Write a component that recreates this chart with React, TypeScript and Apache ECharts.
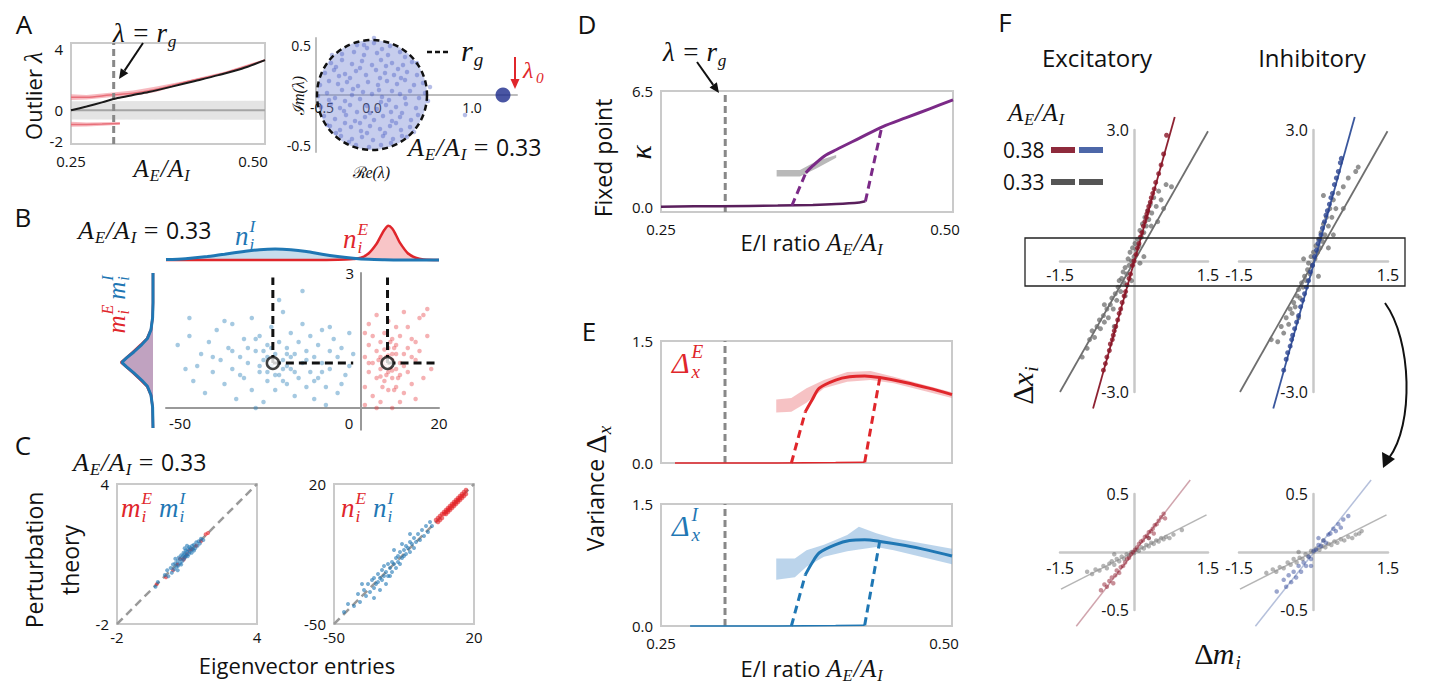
import React, { useEffect, useRef } from "react";
import * as echarts from "echarts";

const SANS = "'Open Sans', 'Noto Sans', sans-serif";
const SERIF = "'Liberation Serif', 'DejaVu Serif', serif";
const TICK = "#111";

// ===== Panel A (left): outlier eigenvalue vs A_E/A_I =====
const rgLineX = 0.305;
const aBlackX = [0.25, 0.27, 0.29, 0.31, 0.33, 0.35, 0.38, 0.41, 0.44, 0.47, 0.5];
const aBlackY = [0.0, 0.25, 0.52, 0.8, 1.0, 1.2, 1.55, 1.92, 2.3, 2.72, 3.28];
const aPinkUpX = [0.25, 0.27, 0.3, 0.33, 0.36, 0.4, 0.45, 0.5];
const aPinkUpHi = [1.05, 1.0, 1.15, 1.3, 1.55, 1.95, 2.55, 3.36];
const aPinkUpLo = [0.68, 0.7, 0.85, 0.95, 1.2, 1.82, 2.42, 3.2];
const aPinkUpMid = [0.86, 0.85, 1.0, 1.12, 1.38, 1.88, 2.48, 3.28];
const aPinkLowX = [0.25, 0.27, 0.29, 0.313];
const aPinkLowHi = [-0.75, -0.8, -0.78, -0.76];
const aPinkLowLo = [-1.08, -1.05, -1.0, -0.95];
const aPinkLowMid = [-0.92, -0.93, -0.9, -0.86];
const aGrayX = [0.25, 0.5];
const aGrayHi = [0.6, 0.62];
const aGrayLo = [-0.6, -0.62];

// ===== Panel A (right): eigenvalue spectrum =====
const rg = 0.55;
const lambda0 = [[1.31, 0]];
const eigPts = [
  [-0.15, 0.5], [0.02, 0.52], [0.18, 0.49], [-0.05, 0.47], [0.1, 0.46],
  [-0.3, 0.41], [-0.18, 0.43], [-0.08, 0.4], [0.05, 0.42], [0.16, 0.4], [0.28, 0.43], [0.33, 0.38],
  [-0.41, 0.32], [-0.3, 0.35], [-0.2, 0.31], [-0.1, 0.34], [0.0, 0.3], [0.09, 0.35], [0.2, 0.32], [0.31, 0.3], [0.4, 0.33], [-0.36, 0.28], [0.26, 0.26],
  [-0.47, 0.22], [-0.38, 0.25], [-0.27, 0.21], [-0.16, 0.24], [-0.06, 0.2], [0.04, 0.25], [0.13, 0.22], [0.22, 0.2], [0.35, 0.23], [0.45, 0.2], [-0.22, 0.17], [0.08, 0.17],
  [-0.52, 0.1], [-0.43, 0.14], [-0.34, 0.11], [-0.25, 0.13], [-0.14, 0.09], [-0.04, 0.13], [0.06, 0.1], [0.15, 0.14], [0.25, 0.11], [0.33, 0.15], [0.42, 0.1], [0.51, 0.12], [-0.3, 0.05], [0.2, 0.04], [-0.09, 0.03], [0.38, 0.04],
  [-0.54, -0.01], [-0.45, 0.02], [-0.37, -0.03], [-0.2, 0.0], [-0.12, -0.04], [0.0, 0.01], [0.1, -0.02], [0.28, 0.01], [0.47, -0.03], [0.53, 0.02], [-0.27, -0.06], [0.17, -0.05],
  [-0.51, -0.12], [-0.41, -0.09], [-0.32, -0.13], [-0.22, -0.1], [-0.05, -0.11], [0.05, -0.14], [0.14, -0.1], [0.24, -0.12], [0.34, -0.09], [0.44, -0.13], [-0.15, -0.17], [0.3, -0.18],
  [-0.48, -0.21], [-0.37, -0.24], [-0.26, -0.2], [-0.17, -0.26], [-0.07, -0.22], [0.02, -0.25], [0.11, -0.21], [0.2, -0.26], [0.28, -0.22], [0.39, -0.25], [0.46, -0.2], [-0.02, -0.18],
  [-0.42, -0.31], [-0.32, -0.35], [-0.21, -0.32], [-0.11, -0.36], [-0.02, -0.31], [0.08, -0.34], [0.18, -0.31], [0.29, -0.35], [0.38, -0.32], [-0.27, -0.28], [0.24, -0.28],
  [-0.31, -0.41], [-0.2, -0.44], [-0.1, -0.42], [0.01, -0.45], [0.11, -0.41], [0.21, -0.44], [0.3, -0.41], [-0.05, -0.38],
  [-0.16, -0.5], [-0.03, -0.52], [0.09, -0.5], [0.19, -0.48], [-0.23, -0.47],
  [0.58, 0.08], [0.56, -0.06], [0.02, 0.57], [0.93, -0.2], [-0.4, 0.4], [0.42, -0.37], [-0.45, -0.3], [0.45, 0.32],
  [-0.12, 0.27], [0.14, 0.29], [-0.33, 0.19], [0.29, 0.17], [-0.19, 0.06], [0.07, 0.05], [0.33, -0.03], [-0.43, -0.05],
  [-0.28, -0.16], [0.09, -0.07], [0.19, -0.17], [-0.12, -0.28], [0.13, -0.38], [-0.36, -0.38], [0.35, -0.42], [-0.08, 0.5]
];

// ===== Panel B =====
const nIX = [-50, -45, -40, -35, -30, -26, -22, -18, -14, -10, -6, -2, 2, 6, 10, 14, 20];
const nIY = [0.01, 0.03, 0.07, 0.13, 0.19, 0.23, 0.245, 0.23, 0.19, 0.13, 0.08, 0.04, 0.015, 0.005, 0, 0, 0];
const nEX = [-50, -10, -4, -2, 0, 2, 4, 5, 6, 7, 8, 9, 10, 12, 14, 16, 20];
const nEY = [0, 0, 0.01, 0.02, 0.05, 0.15, 0.36, 0.52, 0.67, 0.76, 0.7, 0.55, 0.38, 0.15, 0.05, 0.01, 0];
const mY = [-2.2, -1.5, -1.1, -0.8, -0.6, -0.35, -0.15, 0, 0.15, 0.35, 0.6, 0.8, 1.1, 1.5, 2.0, 3.0];
const mED = [0, 0.01, 0.05, 0.15, 0.3, 0.5, 0.67, 0.8, 0.67, 0.5, 0.3, 0.15, 0.05, 0.01, 0, 0];
const mID = [0, 0.01, 0.05, 0.14, 0.28, 0.48, 0.66, 0.78, 0.66, 0.48, 0.28, 0.14, 0.05, 0.01, 0, 0];
const bMeanI = [-22.6, 0];
const bMeanE = [6.8, 0];
const bBlue = [
  [-47, 0.6], [-45, -0.2], [-44, 0.9], [-43, -0.6], [-41, 0.3], [-40, -1.0], [-39, 0.7], [-38, -0.3], [-37, 1.1], [-36, 0.1],
  [-35, -0.7], [-34, 0.5], [-33, -0.2], [-33, 1.3], [-32, -1.2], [-31, 0.2], [-30, 0.8], [-30, -0.5], [-29, 0.0], [-28, 1.5],
  [-28, -0.9], [-27, 0.4], [-26, -0.3], [-26, 0.9], [-25, -1.3], [-25, 0.1], [-24, 0.6], [-24, -0.6], [-23, 1.2], [-23, -0.1],
  [-22, 0.3], [-22, -0.9], [-21, 0.7], [-21, -0.4], [-20, 0.1], [-20, 1.7], [-19, -0.7], [-19, 0.5], [-18, -0.2], [-18, 1.0],
  [-17, -1.1], [-17, 0.3], [-16, 0.7], [-16, -0.5], [-15, 0.0], [-15, 1.3], [-14, -0.8], [-14, 0.4], [-13, -0.3], [-13, 0.9],
  [-12, 0.2], [-12, -1.2], [-11, 0.6], [-11, -0.5], [-10, 0.0], [-10, 1.1], [-9, -0.8], [-8, 0.4], [-8, -0.2], [-7, 0.8],
  [-6, -1.0], [-6, 0.2], [-5, 0.5], [-4, -0.4], [-3, 1.0], [-3, -0.1], [-2, 0.3], [-21, 2.1], [-15, 2.4], [-27, -1.5],
  [-35, 1.4], [-9, -1.4], [-24, 0.2], [-20, -0.2], [-23, 0.5], [-19, -0.1], [-30, -1.8], [-16, -1.7], [-44, 1.5], [-7, -1.6],
  [-26, -0.1], [-22, -0.4], [-18, 0.2], [-20, -0.6], [-24, -0.3], [-27, 0.8], [-17, -0.3], [-21, 0.0], [-25, 0.4], [-19, 0.3],
  [-31, -0.4], [-14, 0.1], [-12, -0.6], [-29, 0.5], [-33, 0.4], [-38, 0.2], [-42, -0.1], [-10, -0.3], [-5, -0.7], [-8, 1.2]
];
const bRed = [
  [1, 0.2], [1, -0.8], [2, 0.6], [2, -0.3], [2, 1.3], [3, -1.1], [3, 0.0], [3, 0.9], [4, -0.5], [4, 0.4],
  [4, 1.6], [5, -0.2], [5, 0.7], [5, -1.3], [5, 0.2], [6, -0.6], [6, 0.1], [6, 1.0], [6, -0.1], [7, 0.5],
  [7, -0.9], [7, 0.0], [7, 1.4], [7, -0.3], [8, 0.3], [8, -0.5], [8, 0.8], [8, -1.5], [8, 0.1], [9, -0.2],
  [9, 0.6], [9, -0.8], [9, 1.2], [10, 0.0], [10, -0.4], [10, 0.9], [11, -1.0], [11, 0.3], [11, 1.7], [12, -0.3],
  [12, 0.5], [13, -0.7], [13, 0.8], [14, 0.1], [14, -1.2], [15, 0.4], [15, 1.5], [16, -0.5], [17, 0.9], [17, 1.8],
  [18, -0.2], [3, -1.6], [6, -1.8], [9, -1.7], [12, 1.2], [1, 1.0], [4, -1.5], [7, 0.25], [6, 0.45], [8, -0.25],
  [5, -0.45], [9, 0.3], [10, -1.3], [2, 0.0], [11, -0.1], [12, -1.6], [13, 0.2], [16, 1.6], [14, 0.7], [1, -1.4],
  [6.5, 0.2], [7.5, -0.15], [5.5, 0.0], [8.5, 0.5], [6.5, -0.4], [7.5, 0.7], [4.5, 0.1], [9.5, -0.5], [5.5, -0.8], [8.5, -0.9]
];

// ===== Panel C =====
const cMI = [
  [-0.35, -0.4], [-0.25, -0.2], [0.05, 0.1], [0.15, 0.3], [0.2, 0.05], [0.3, 0.4], [0.35, 0.2], [0.4, 0.55], [0.45, 0.35], [0.5, 0.6],
  [0.55, 0.45], [0.6, 0.7], [0.62, 0.5], [0.65, 0.85], [0.7, 0.6], [0.72, 0.78], [0.75, 0.95], [0.8, 0.7], [0.82, 0.9], [0.85, 1.05],
  [0.88, 0.8], [0.9, 1.0], [0.93, 0.88], [0.95, 1.15], [0.98, 0.95], [1.0, 1.1], [1.03, 0.9], [1.05, 1.2], [1.08, 1.0], [1.1, 1.3],
  [1.12, 1.1], [1.15, 1.25], [1.2, 1.05], [1.22, 1.35], [1.25, 1.2], [1.3, 1.4], [1.35, 1.25], [1.4, 1.5], [1.45, 1.35], [1.5, 1.55],
  [1.55, 1.45], [1.6, 1.65], [0.5, 0.8], [0.6, 0.3], [1.0, 1.35], [0.75, 0.55], [1.3, 1.15], [0.9, 1.25], [1.7, 1.6]
];
const cME = [
  [-0.3, -0.3], [0.1, 0.0], [0.4, 0.3], [0.6, 0.55], [0.7, 0.8], [0.9, 0.85], [1.0, 1.0], [1.2, 1.2], [1.4, 1.35], [1.6, 1.55],
  [1.8, 1.85], [1.9, 1.9], [0.85, 0.75], [1.1, 1.15]
];
const cNI = [
  [-45, -44], [-43, -40], [-40, -41], [-38, -35], [-37, -39], [-35, -33], [-34, -36], [-33, -30], [-32, -34], [-31, -28],
  [-30, -32], [-30, -27], [-29, -30], [-28, -25], [-28, -29], [-27, -27], [-26, -23], [-26, -28], [-25, -26], [-25, -21],
  [-24, -24], [-23, -20], [-23, -26], [-22, -22], [-21, -19], [-21, -24], [-20, -20], [-19, -17], [-19, -22], [-18, -16],
  [-18, -19], [-17, -14], [-17, -20], [-16, -17], [-15, -13], [-15, -16], [-14, -11], [-14, -15], [-13, -12], [-12, -9],
  [-12, -14], [-11, -10], [-10, -7], [-10, -12], [-9, -9], [-8, -5], [-7, -8], [-6, -3], [-5, -6], [-4, -1],
  [-3, -4], [-2, 1], [-1, -1], [-24, -30], [-20, -13], [-36, -30], [-27, -33], [-16, -10], [-22, -26], [-30, -37], [-12, -5]
];
const cNE = [
  [1, 2], [2, 1], [3, 4], [4, 3], [5, 5], [5, 6], [6, 5], [6, 7], [7, 6], [7, 8], [8, 7], [8, 9], [9, 8], [9, 10], [10, 9],
  [10, 11], [11, 10], [11, 12], [12, 11], [12, 13], [13, 12], [13, 14], [14, 13], [14, 15], [15, 14], [15, 16], [16, 15],
  [8, 8], [10, 10], [12, 12], [6, 6], [4, 5], [11, 11], [13, 13], [3, 2], [9, 9], [7, 7], [14, 14], [16, 17], [2, 3]
];

// ===== Panel D =====
const dGrayX = [0.349, 0.369, 0.383, 0.4];
const dGrayHi = [2.06, 2.06, 2.55, 2.9];
const dGrayLo = [1.7, 1.7, 2.15, 2.75];
const dLowX = [0.25, 0.3, 0.35, 0.38, 0.4, 0.42, 0.425];
const dLowY = [0, 0.03, 0.06, 0.1, 0.15, 0.24, 0.3];
const dUpX = [0.374, 0.38, 0.39, 0.4, 0.42, 0.44, 0.46, 0.48, 0.5];
const dUpY = [1.9, 2.3, 2.85, 3.2, 3.85, 4.5, 5.0, 5.5, 6.0];
const dDash1 = [[0.362, 0.05], [0.374, 1.9]];
const dDash2 = [[0.425, 0.3], [0.439, 4.47]];

// ===== Panel E =====
const eRedFlatX = [0.262, 0.35, 0.4, 0.425];
const eBlueFlatX = [0.275, 0.35, 0.4, 0.425];
const eFlatY = [0, 0, 0.005, 0.01];
const eUpX = [0.374, 0.38, 0.386, 0.4, 0.412, 0.425, 0.438, 0.46, 0.48, 0.5];
const eRedUpY = [0.63, 0.78, 0.92, 1.02, 1.06, 1.07, 1.05, 0.99, 0.92, 0.84];
const eBlueUpY = [0.63, 0.78, 0.9, 1.0, 1.05, 1.06, 1.04, 0.99, 0.93, 0.86];
const eDash1 = [[0.362, 0], [0.374, 0.63]];
const eDash2 = [[0.425, 0.01], [0.438, 1.05]];
const eRedBandX = [0.349, 0.362, 0.375, 0.39, 0.41, 0.43, 0.45, 0.5];
const eRedBandHi = [0.78, 0.8, 0.92, 1.02, 1.12, 1.13, 1.06, 0.87];
const eRedBandLo = [0.62, 0.63, 0.74, 0.92, 1.0, 1.02, 0.98, 0.8];
const eBlueBandX = [0.349, 0.365, 0.375, 0.39, 0.41, 0.42, 0.435, 0.45, 0.5];
const eBlueBandHi = [0.83, 0.83, 0.93, 1.0, 1.12, 1.22, 1.14, 1.08, 0.95];
const eBlueBandLo = [0.57, 0.6, 0.73, 0.85, 0.92, 0.94, 0.97, 0.93, 0.76];

// ===== Panel F =====
const fExRedLine = [[-0.83, -3.38], [0.826, 3.3]];
const fExGrayLine = [[-1.5, -3.0], [1.5, 2.97]];
const fInBlueLine = [[-0.81, -3.38], [0.83, 3.3]];
const fInGrayLine = [[-1.48, -3.0], [1.49, 2.97]];
const fExRedLineZ = [[-1.17, -0.64], [1.14, 0.62]];
const fExGrayLineZ = [[-1.48, -0.32], [1.47, 0.32]];
const fInBlueLineZ = [[-1.17, -0.64], [1.16, 0.62]];
const fInGrayLineZ = [[-1.48, -0.32], [1.47, 0.32]];
const fExRed = [
  [-0.58, -2.35], [-0.55, -2.2], [-0.5, -2.05], [-0.48, -1.9], [-0.44, -1.8], [-0.42, -1.7], [-0.4, -1.6], [-0.37, -1.5], [-0.33, -1.35], [-0.3, -1.2],
  [-0.27, -1.1], [-0.24, -0.95], [-0.2, -0.8], [-0.17, -0.7], [-0.14, -0.55], [-0.1, -0.4], [-0.07, -0.3], [-0.03, -0.1], [0.0, 0.0], [0.04, 0.15],
  [0.07, 0.3], [0.1, 0.4], [0.13, 0.55], [0.16, 0.65], [0.19, 0.8], [0.22, 0.9], [0.25, 1.0], [0.28, 1.15], [0.3, 1.25], [0.33, 1.35],
  [0.35, 1.45], [0.38, 1.55], [0.41, 1.65], [0.44, 1.8], [0.5, 2.0], [0.55, 2.2], [0.6, 2.45], [0.66, 2.88], [-0.62, -2.5], [0.26, 1.08]
];
const fExGray = [
  [-0.9, -1.8], [-0.85, -1.6], [-0.8, -1.75], [-0.75, -1.5], [-0.7, -1.35], [-0.68, -1.55], [-0.62, -1.25], [-0.6, -1.4], [-0.55, -1.1], [-0.52, -1.3],
  [-0.48, -1.0], [-0.45, -0.85], [-0.42, -1.1], [-0.38, -0.75], [-0.35, -0.9], [-0.32, -0.6], [-0.3, -0.45], [-0.27, -0.7], [-0.25, -0.4], [-0.22, -0.25],
  [-0.2, -0.5], [-0.18, -0.15], [-0.15, -0.3], [-0.12, 0.05], [-0.1, -0.1], [-0.08, 0.2], [-0.05, 0.0], [-0.03, 0.3], [0.0, 0.1], [0.02, 0.4],
  [0.05, 0.25], [0.07, 0.5], [0.1, 0.35], [0.12, 0.7], [0.15, 0.55], [0.17, 0.85], [0.2, 0.65], [0.22, 1.0], [0.25, 0.8], [0.28, 1.15],
  [0.3, 0.95], [0.33, 1.3], [0.36, 1.1], [0.4, 1.45], [0.45, 1.25], [0.5, 1.6], [0.55, 1.4], [0.6, 1.2], [0.65, 1.75], [0.76, 1.7],
  [0.48, 0.9], [-0.05, -0.45], [0.12, -0.05], [-0.4, -1.5], [0.35, 0.8], [0.2, 0.1], [-0.18, -0.8], [-0.6, -1.0], [-1.05, -2.2], [-0.95, -2.0]
];
const fInBlue = [
  [-0.74, -3.15], [-0.6, -2.5], [-0.55, -2.25], [-0.52, -2.1], [-0.47, -1.95], [-0.44, -1.8], [-0.42, -1.7], [-0.38, -1.55], [-0.34, -1.4], [-0.3, -1.25],
  [-0.26, -1.05], [-0.22, -0.9], [-0.18, -0.75], [-0.14, -0.6], [-0.1, -0.45], [-0.06, -0.25], [-0.02, -0.1], [0.02, 0.1], [0.06, 0.25], [0.09, 0.4],
  [0.12, 0.5], [0.15, 0.6], [0.18, 0.75], [0.22, 0.9], [0.25, 1.05], [0.28, 1.15], [0.32, 1.3], [0.35, 1.45], [0.38, 1.55], [0.42, 1.75],
  [0.46, 1.9], [0.5, 2.05], [0.54, 2.25], [0.56, 2.35]
];
const fInGray = [
  [-0.72, -1.85], [-0.65, -1.5], [-0.6, -1.65], [-0.55, -1.3], [-0.5, -1.45], [-0.47, -1.1], [-0.43, -1.2], [-0.4, -0.95], [-0.37, -1.05], [-0.33, -0.8],
  [-0.3, -0.65], [-0.27, -0.85], [-0.24, -0.5], [-0.21, -0.6], [-0.18, -0.35], [-0.15, -0.45], [-0.12, -0.2], [-0.1, -0.05], [-0.07, -0.3], [-0.05, 0.1],
  [-0.02, -0.1], [0.0, 0.2], [0.03, 0.05], [0.05, 0.35], [0.08, 0.2], [0.1, 0.5], [0.13, 0.3], [0.15, 0.65], [0.18, 0.45], [0.2, 0.85],
  [0.23, 0.6], [0.26, 1.0], [0.3, 0.8], [0.33, 1.2], [0.37, 1.0], [0.4, 1.4], [0.45, 1.2], [0.5, 1.55], [0.6, 1.7], [0.7, 1.9],
  [0.85, 2.05], [0.9, 2.15], [0.3, 0.3], [0.1, -0.35], [0.2, 1.5], [0.4, 0.6], [0.6, 1.2], [-0.3, -1.3], [-0.85, -1.8], [-0.2, 0.05]
];
const fExRedZ = [
  [-0.67, -0.33], [-0.6, -0.28], [-0.55, -0.3], [-0.5, -0.25], [-0.45, -0.22], [-0.42, -0.27], [-0.38, -0.2], [-0.35, -0.16], [-0.3, -0.18], [-0.27, -0.13],
  [-0.22, -0.12], [-0.18, -0.09], [-0.14, -0.06], [-0.1, -0.05], [-0.06, -0.02], [-0.02, 0.0], [0.02, 0.02], [0.06, 0.04], [0.1, 0.07], [0.14, 0.09],
  [0.18, 0.1], [0.22, 0.13], [0.26, 0.14], [0.3, 0.17], [0.34, 0.18], [0.38, 0.2], [0.42, 0.23], [0.46, 0.24], [0.5, 0.27], [0.55, 0.3],
  [0.6, 0.33], [0.63, 0.29], [0.3, 0.12], [0.4, 0.16]
];
const fExGrayZ = [
  [-0.95, -0.17], [-0.85, -0.19], [-0.78, -0.15], [-0.7, -0.16], [-0.62, -0.12], [-0.55, -0.14], [-0.5, -0.1], [-0.45, -0.08], [-0.4, -0.11], [-0.35, -0.06],
  [-0.3, -0.08], [-0.25, -0.04], [-0.2, -0.06], [-0.15, -0.02], [-0.1, -0.03], [-0.05, 0.0], [0.0, -0.01], [0.05, 0.02], [0.1, 0.01], [0.15, 0.04],
  [0.2, 0.03], [0.25, 0.06], [0.3, 0.05], [0.35, 0.08], [0.4, 0.07], [0.45, 0.1], [0.5, 0.09], [0.55, 0.12], [0.6, 0.11], [0.65, 0.13],
  [0.72, 0.12], [0.8, 0.15], [0.97, 0.19], [-0.4, -0.02], [0.3, 0.12]
];
const fInBlueZ = [
  [-0.74, -0.34], [-0.6, -0.24], [-0.55, -0.3], [-0.5, -0.2], [-0.45, -0.26], [-0.4, -0.17], [-0.35, -0.22], [-0.3, -0.12], [-0.25, -0.17], [-0.2, -0.09],
  [-0.15, -0.12], [-0.1, -0.04], [-0.05, -0.06], [0.0, 0.01], [0.05, 0.02], [0.1, 0.06], [0.15, 0.05], [0.2, 0.1], [0.25, 0.08], [0.3, 0.15],
  [0.34, 0.16], [0.4, 0.2], [0.45, 0.18], [0.5, 0.24], [0.55, 0.21], [0.6, 0.28], [0.7, 0.31], [0.1, 0.12], [-0.05, -0.12]
];
const fInGrayZ = [
  [-0.95, -0.18], [-0.82, -0.15], [-0.75, -0.17], [-0.68, -0.13], [-0.6, -0.14], [-0.52, -0.09], [-0.46, -0.11], [-0.4, -0.06], [-0.34, -0.09], [-0.28, -0.05],
  [-0.22, -0.06], [-0.16, -0.02], [-0.1, -0.04], [-0.05, 0.01], [0.0, 0.0], [0.06, 0.03], [0.12, 0.02], [0.18, 0.05], [0.24, 0.04], [0.3, 0.07],
  [0.36, 0.06], [0.42, 0.09], [0.48, 0.08], [0.55, 0.11], [0.62, 0.1], [0.7, 0.13], [0.78, 0.12], [0.85, 0.15], [0.92, 0.16], [0.97, 0.18],
  [-0.3, 0.0], [0.2, 0.1]
];

// ---------- helpers ----------
const zip = (xs: number[], ys: number[]) => xs.map((x, i) => [x, ys[i]]);
const band = (xs: number[], hi: number[], lo: number[]) => [...zip(xs, hi), ...zip(xs, lo).reverse()];

const CW: Record<string, number> = {
  A: 0.611, E: 0.611, I: 0.333, n: 0.5, m: 0.722, r: 0.389, g: 0.5, i: 0.278, x: 0.444, "/": 0.3,
  "=": 0.6, " ": 0.25, "λ": 0.5, "Δ": 0.62, "κ": 0.5, "0": 0.5, "(": 0.33, ")": 0.33, e: 0.44, "ℐ": 0.62, "ℛ": 0.78
};
const SW: Record<string, number> = {
  "0": 0.572, "3": 0.572, ".": 0.27, " ": 0.26, E: 0.556, "/": 0.367, I: 0.279, r: 0.408, a: 0.556, t: 0.361,
  i: 0.258, o: 0.602, V: 0.55, n: 0.613, c: 0.48, e: 0.561
};
type Tok = { t: string; sub?: string; sup?: string; sans?: boolean; c?: string; s?: number; gap?: number; up?: boolean; fam?: string };
const wOf = (s: string, size: number, sans?: boolean) => {
  let w = 0;
  for (const ch of s) w += ((sans ? SW : CW)[ch] ?? 0.55) * size;
  return w;
};
function mathG(x: number, y: number, toks: Tok[], size: number, color: string, opts: { center?: boolean; rot?: number } = {}) {
  const kids: any[] = [];
  let cx = 0;
  for (const tk of toks) {
    const s = tk.s ?? size;
    const col = tk.c ?? color;
    kids.push({
      type: "text", x: cx, y: 0,
      style: { text: tk.t, fill: col, fontSize: s, fontFamily: tk.fam ?? (tk.sans ? SANS : SERIF), fontStyle: tk.sans || tk.up ? "normal" : "italic", align: "left", verticalAlign: "middle" }
    });
    cx += wOf(tk.t, s, tk.sans);
    const ss = s * 0.64;
    let sw = 0;
    if (tk.sup) {
      kids.push({ type: "text", x: cx + 1, y: -s * 0.36, style: { text: tk.sup, fill: col, fontSize: ss, fontFamily: SERIF, fontStyle: "italic", align: "left", verticalAlign: "middle" } });
      sw = Math.max(sw, wOf(tk.sup, ss) + 2);
    }
    if (tk.sub) {
      kids.push({ type: "text", x: cx + 1, y: s * 0.3, style: { text: tk.sub, fill: col, fontSize: ss, fontFamily: SERIF, fontStyle: "italic", align: "left", verticalAlign: "middle" } });
      sw = Math.max(sw, wOf(tk.sub, ss) + 2);
    }
    cx += sw + (tk.gap ?? 0);
  }
  if (opts.center) kids.forEach((k) => (k.x -= cx / 2));
  return { type: "group", x, y, rotation: opts.rot ?? 0, children: kids };
}
const txt = (x: number, y: number, text: string, size: number, extra: any = {}) => ({
  type: "text", x, y, rotation: extra.rot ?? 0,
  style: { text, fill: extra.fill ?? "#111", fontSize: size, fontFamily: extra.font ?? SANS, align: extra.align ?? "center", verticalAlign: "middle", lineHeight: extra.lh, fontStyle: extra.style ?? "normal" }
});
const arrow = (x1: number, y1: number, x2: number, y2: number, color = "#111", w = 2, head = 10) => {
  const dx = x2 - x1, dy = y2 - y1, L = Math.hypot(dx, dy);
  const ux = dx / L, uy = dy / L;
  const bx = x2 - head * ux, by = y2 - head * uy;
  const px = -uy, py = ux, hw = head * 0.45;
  return [
    { type: "line", shape: { x1, y1, x2: bx, y2: by }, style: { stroke: color, lineWidth: w } },
    { type: "polygon", shape: { points: [[x2, y2], [bx + hw * px, by + hw * py], [bx - hw * px, by - hw * py]] }, style: { fill: color } }
  ];
};

const polyS = (ai: number, pts: number[][], fill: string, z = 1) => ({
  type: "custom", xAxisIndex: ai, yAxisIndex: ai, silent: true, z, clip: false,
  data: [pts[0]],
  renderItem: (_p: any, api: any) => ({ type: "polygon", shape: { points: pts.map((p) => api.coord(p)) }, style: { fill } })
});
const lineS = (ai: number, data: number[][], color: string, width: number, type: any = "solid", extra: any = {}) => ({
  type: "line", xAxisIndex: ai, yAxisIndex: ai, data, symbol: "none", silent: true, z: 3, clip: false,
  lineStyle: { color, width, type, cap: "butt" }, ...extra
});
const scatS = (ai: number, data: number[][], color: string, size: number, extra: any = {}) => ({
  type: "scatter", xAxisIndex: ai, yAxisIndex: ai, data, symbolSize: size, silent: true, z: 2,
  itemStyle: { color }, ...extra
});

const TSTYLE = { fontSize: 15, color: TICK, fontFamily: SANS };
const labelCfg = (vals: number[], fmt: (v: number) => string, extra: any = {}) => ({
  show: true, customValues: vals, formatter: (v: number) => fmt(v), ...TSTYLE, margin: 7, ...extra
});
// shifts the max label leftwards (reference puts "0.50" slightly inside the frame)
const endLab = (shift: number) => ({
  rich: { r: { ...TSTYLE, padding: [0, shift, 0, 0] } }
});
const fEnd = (v: number) => (v === 0.5 ? "{r|0.50}" : v.toFixed(2));
const hid = { axisLine: { show: false }, axisTick: { show: false }, splitLine: { show: false }, axisLabel: { show: false } };
const ax = (g: number, min: number, max: number, o: any = {}) => ({ type: "value", gridIndex: g, min, max, ...hid, ...o });
const f1 = (v: number) => v.toFixed(1);
const str = (v: number) => String(v);
const BORDER = { show: true, borderColor: "#cacaca", borderWidth: 2 };
const FAX = { show: true, onZero: true, lineStyle: { color: "#c8c8c8", width: 2.5 } };

function buildOption() {
  const grid = [
    { left: 71, top: 43, width: 194, height: 101, ...BORDER },
    { left: 316, top: 38, width: 201, height: 114 },
    { left: 166, top: 215, width: 273, height: 45 },
    { left: 113, top: 273, width: 40, height: 155 },
    { left: 166, top: 273, width: 273, height: 135 },
    { left: 117, top: 484, width: 140, height: 140, ...BORDER },
    { left: 334, top: 484, width: 140, height: 140, ...BORDER },
    { left: 661, top: 91, width: 292, height: 121, ...BORDER },
    { left: 661, top: 341, width: 291, height: 122, ...BORDER },
    { left: 661, top: 504, width: 291, height: 122, ...BORDER },
    { left: 1060, top: 130, width: 148, height: 262 },
    { left: 1239, top: 130, width: 149, height: 262 },
    { left: 1060, top: 494, width: 148, height: 116 },
    { left: 1239, top: 494, width: 149, height: 116 }
  ];
  const fx = (g: number, m: number) => ax(g, -1.5, 1.5, { axisLine: FAX, axisLabel: labelCfg([-1.5, 1.5], f1, { margin: m, fontSize: 16 }) });
  const xAxis = [
    ax(0, 0.25, 0.5, { axisLabel: labelCfg([0.25, 0.5], fEnd, { margin: 9, ...endLab(24) }) }),
    ax(1, -0.56, 1.45, { axisLine: { show: true, onZero: true, lineStyle: { color: "#bdbdbd", width: 2 } }, axisLabel: labelCfg([-0.5, 0, 1], f1, { fontSize: 14, margin: -52 }) }),
    ax(2, -50, 20),
    ax(3, 0, 1, { inverse: true }),
    ax(4, -50, 20, {
      axisLine: { show: true, onZero: false, lineStyle: { color: "#999", width: 2 } },
      axisLabel: labelCfg([-50, 0, 20], (v) => (v === -50 ? "{l|-50}" : v === 0 ? "{z|0}" : "20"), {
        rich: { l: { ...TSTYLE, padding: [0, 0, 0, 28] }, z: { ...TSTYLE, padding: [0, 24, 0, 0] } }
      })
    }),
    ax(5, -2, 4, { axisLabel: labelCfg([-2, 4], str, { margin: 5 }) }),
    ax(6, -50, 20, { axisLabel: labelCfg([-50, 20], str, { margin: 5 }) }),
    ax(7, 0.25, 0.5, { axisLabel: labelCfg([0.25, 0.5], fEnd, { margin: 9, ...endLab(16) }) }),
    ax(8, 0.25, 0.5),
    ax(9, 0.25, 0.5, { axisLabel: labelCfg([0.25, 0.5], fEnd, { margin: 9, ...endLab(16) }) }),
    fx(10, -125), fx(11, -125), fx(12, -50), fx(13, -50)
  ];
  const fy = (g: number, lo: number, hi: number) => ax(g, lo, hi, { axisLine: FAX, axisLabel: labelCfg([lo, hi], f1, { margin: -69, fontSize: 16 }) });
  const yAxis = [
    ax(0, -2.2, 4.4, { axisLabel: labelCfg([-2, 0, 4], str, { margin: 8 }) }),
    ax(1, -0.57, 0.57, { axisLine: { show: true, onZero: false, lineStyle: { color: "#bdbdbd", width: 2 } }, axisLabel: labelCfg([-0.5, 0.5], f1, { fontSize: 14, margin: 5 }) }),
    ax(2, 0, 1),
    ax(3, -2.2, 3),
    ax(4, -1.5, 3, { axisLine: { show: true, onZero: true, lineStyle: { color: "#999", width: 2 } }, axisLabel: labelCfg([3], str, { margin: -188 }) }),
    ax(5, -2, 4, { axisLabel: labelCfg([-2, 4], str, { margin: 8 }) }),
    ax(6, -50, 20, { axisLabel: labelCfg([-50, 20], str, { margin: 8 }) }),
    ax(7, -0.3, 6.5, { axisLabel: labelCfg([0, 6.5], f1, { margin: 8 }) }),
    ax(8, 0, 1.5, { axisLabel: labelCfg([0, 1.5], f1, { margin: 8 }) }),
    ax(9, 0, 1.5, { axisLabel: labelCfg([0, 1.5], f1, { margin: 8 }) }),
    fy(10, -3, 3), fy(11, -3, 3), fy(12, -0.5, 0.5), fy(13, -0.5, 0.5)
  ];

  const dashGray = (ai: number, lo: number, hi: number) => lineS(ai, [[rgLineX, lo], [rgLineX, hi]], "#888", 3, [7, 4]);
  const RED = "#e0262b", BLUE = "#1f77b4", PURP = "#7b2a87";

  const series: any[] = [
    // ---- A left ----
    polyS(0, band(aGrayX, aGrayHi, aGrayLo), "rgba(195,195,195,0.45)"),
    lineS(0, [[0.25, 0], [0.5, 0]], "#a5a5a5", 2),
    polyS(0, band(aPinkUpX, aPinkUpHi, aPinkUpLo), "rgba(240,130,140,0.55)"),
    polyS(0, band(aPinkLowX, aPinkLowHi, aPinkLowLo), "rgba(240,130,140,0.55)"),
    lineS(0, zip(aPinkUpX, aPinkUpMid), "#e8707a", 1.5, "solid", { smooth: 0.3 }),
    lineS(0, zip(aPinkLowX, aPinkLowMid), "#e8707a", 1.5),
    dashGray(0, -2.2, 4.4),
    lineS(0, zip(aBlackX, aBlackY), "#1a1a1a", 2, "solid", { smooth: 0.3, z: 4 }),
    // ---- A right ----
    {
      type: "custom", xAxisIndex: 1, yAxisIndex: 1, silent: true, z: 1, data: [[0, 0]],
      renderItem: (_p: any, api: any) => {
        const c = api.coord([0, 0]);
        const r = api.size([rg, rg]);
        return { type: "circle", shape: { cx: c[0], cy: c[1], r: r[0] }, style: { fill: "rgba(120,135,212,0.42)" } };
      }
    },
    scatS(1, eigPts, "rgba(70,90,195,0.5)", 4.5),
    {
      type: "custom", xAxisIndex: 1, yAxisIndex: 1, silent: true, z: 5, data: [[0, 0]],
      renderItem: (_p: any, api: any) => {
        const c = api.coord([0, 0]);
        const r = api.size([rg, rg]);
        return { type: "circle", shape: { cx: c[0], cy: c[1], r: r[0] }, style: { fill: "none", stroke: "#111", lineWidth: 2.5, lineDash: [6, 4] } };
      }
    },
    scatS(1, lambda0, "#1c2b8c", 15, { z: 6 }),
    // ---- B top marginal ----
    polyS(2, [...zip(nEX, nEY), [20, 0], [-50, 0]], "rgba(235,90,95,0.35)"),
    lineS(2, zip(nEX, nEY), RED, 2.5, "solid", { smooth: 0.3 }),
    polyS(2, [...zip(nIX, nIY), [20, 0], [-50, 0]], "rgba(31,119,180,0.25)"),
    lineS(2, zip(nIX, nIY), BLUE, 3, "solid", { smooth: 0.3, z: 4 }),
    // ---- B left marginal ----
    polyS(3, [...zip(mED, mY), [0, 3], [0, -2.2]], "rgba(140,85,140,0.55)"),
    lineS(3, zip(mED, mY), RED, 2.5),
    lineS(3, zip(mID, mY), BLUE, 3, "solid", { z: 4 }),
    // ---- B main ----
    lineS(4, [[0, -2.25], [0, -1.5]], "#999", 2),
    scatS(4, bBlue, "rgba(31,119,180,0.5)", 4.5),
    scatS(4, bRed, "rgba(228,38,43,0.45)", 4.5),
    lineS(4, [bMeanI, [bMeanI[0], 2.85]], "#111", 3, [8, 5]),
    lineS(4, [bMeanI, [-2, 0]], "#111", 3, [8, 5]),
    lineS(4, [bMeanE, [bMeanE[0], 2.85]], "#111", 3, [8, 5]),
    lineS(4, [bMeanE, [20, 0]], "#111", 3, [8, 5]),
    scatS(4, [bMeanI, bMeanE], "#fff", 12, { z: 6, itemStyle: { color: "#fff", borderColor: "#111", borderWidth: 2.5 } }),
    // ---- C ----
    lineS(5, [[-2, -2], [4, 4]], "#9a9a9a", 2.5, [8, 5], { z: 1 }),
    scatS(5, cME, "rgba(228,38,43,0.8)", 4),
    scatS(5, cMI, "rgba(31,119,180,0.75)", 4),
    lineS(6, [[-50, -50], [20, 20]], "#9a9a9a", 2.5, [8, 5], { z: 1 }),
    scatS(6, cNI, "rgba(31,119,180,0.75)", 4),
    scatS(6, cNE, "rgba(228,38,43,0.8)", 4.5),
    // ---- D ----
    dashGray(7, -0.3, 6.5),
    polyS(7, band(dGrayX, dGrayHi, dGrayLo), "#b9b9b9"),
    lineS(7, zip(dLowX, dLowY), "#5a1f5c", 2.5, "solid", { smooth: 0.3 }),
    lineS(7, zip(dUpX, dUpY), PURP, 3, "solid", { smooth: 0.3 }),
    lineS(7, dDash1, PURP, 3, [8, 5]),
    lineS(7, dDash2, PURP, 3, [8, 5]),
    // ---- E top ----
    dashGray(8, 0, 1.5),
    polyS(8, band(eRedBandX, eRedBandHi, eRedBandLo), "rgba(235,120,125,0.45)"),
    lineS(8, zip(eRedFlatX, eFlatY), RED, 1.5),
    lineS(8, zip(eUpX, eRedUpY), RED, 3, "solid", { smooth: 0.3 }),
    lineS(8, eDash1, RED, 3, [8, 5]),
    lineS(8, eDash2, RED, 3, [8, 5]),
    // ---- E bottom ----
    dashGray(9, 0, 1.5),
    polyS(9, band(eBlueBandX, eBlueBandHi, eBlueBandLo), "rgba(120,170,215,0.5)"),
    lineS(9, zip(eBlueFlatX, eFlatY), BLUE, 1.5),
    lineS(9, zip(eUpX, eBlueUpY), BLUE, 3, "solid", { smooth: 0.3 }),
    lineS(9, eDash1, BLUE, 3, [8, 5]),
    lineS(9, eDash2, BLUE, 3, [8, 5]),
    // ---- F top ----
    lineS(10, fExGrayLine, "#6f6f6f", 1.8),
    scatS(10, fExGray, "rgba(95,95,95,0.85)", 5),
    lineS(10, fExRedLine, "#8e2232", 1.8),
    scatS(10, fExRed, "#8a1426", 5, { z: 4 }),
    lineS(11, fInGrayLine, "#6f6f6f", 1.8),
    scatS(11, fInGray, "rgba(95,95,95,0.85)", 5),
    lineS(11, fInBlueLine, "#3a579d", 1.8),
    scatS(11, fInBlue, "#2a4490", 5, { z: 4 }),
    // ---- F bottom ----
    lineS(12, fExRedLineZ, "rgba(170,90,105,0.55)", 1.5),
    lineS(12, fExGrayLineZ, "rgba(150,150,150,0.7)", 1.5),
    scatS(12, fExGrayZ, "rgba(100,100,100,0.6)", 4.5),
    scatS(12, fExRedZ, "rgba(140,20,40,0.6)", 4.5, { z: 4 }),
    lineS(13, fInBlueLineZ, "rgba(120,140,190,0.55)", 1.5),
    lineS(13, fInGrayLineZ, "rgba(150,150,150,0.7)", 1.5),
    scatS(13, fInGrayZ, "rgba(100,100,100,0.6)", 4.5),
    scatS(13, fInBlueZ, "rgba(45,70,150,0.6)", 4.5, { z: 4 })
  ];

  const AEAI: Tok[] = [{ t: "A", sub: "E" }, { t: "/" }, { t: "A", sub: "I" }];
  const AEAIeq: Tok[] = [...AEAI, { t: " = ", up: true }, { t: "0.33", sans: true, s: 23 }];
  const RC = "#e0262b", BC = "#1f77b4";

  const elements: any[] = [
    // panel letters
    txt(24, 24, "A", 26), txt(23, 217, "B", 26), txt(23, 445, "C", 26),
    txt(587, 24, "D", 26), txt(589, 331, "E", 26), txt(1005, 22, "F", 26),
    // A
    mathG(113, 33, [{ t: "λ = r", sub: "g" }], 27, "#111"),
    ...arrow(143, 43, 119, 79),
    mathG(33, 95, [{ t: "Outlier ", sans: true, s: 22 }, { t: "λ", s: 26 }], 22, "#111", { center: true, rot: Math.PI / 2 }),
    mathG(162, 168, AEAI, 25, "#111", { center: true }),
    mathG(298, 95, [{ t: "ℐ", up: true, fam: "'DejaVu Serif', serif" }, { t: "m(λ)" }], 16, "#111", { center: true, rot: Math.PI / 2 }),
    mathG(372, 172, [{ t: "ℛ", up: true, fam: "'DejaVu Serif', serif" }, { t: "e(λ)" }], 16, "#111", { center: true }),
    mathG(408, 147, AEAIeq, 26, "#111"),
    { type: "line", shape: { x1: 427, y1: 52, x2: 451, y2: 52 }, style: { stroke: "#111", lineWidth: 2.5, lineDash: [5, 3] } },
    mathG(461, 50, [{ t: "r", sub: "g" }], 30, "#111"),
    ...arrow(515, 57, 515, 89, RC, 2, 10),
    mathG(523, 70, [{ t: "λ", sub: "0" }], 24, RC),
    // B
    mathG(78, 230, AEAIeq, 26, "#111"),
    mathG(235, 236, [{ t: "n", sub: "i", sup: "I" }], 27, BC),
    mathG(343, 239, [{ t: "n", sub: "i", sup: "E" }], 27, RC),
    mathG(116, 304, [{ t: "m", sub: "i", sup: "E", c: RC, gap: 4 }, { t: "m", sub: "i", sup: "I", c: BC }], 25, "#111", { center: true, rot: Math.PI / 2 }),
    // C
    mathG(73, 462, AEAIeq, 26, "#111"),
    mathG(121, 508, [{ t: "m", sub: "i", sup: "E", c: RC, gap: 6 }, { t: "m", sub: "i", sup: "I", c: BC }], 27, "#111"),
    mathG(341, 508, [{ t: "n", sub: "i", sup: "E", c: RC, gap: 6 }, { t: "n", sub: "i", sup: "I", c: BC }], 27, "#111"),
    txt(52, 560, "Perturbation\ntheory", 23, { rot: Math.PI / 2, lh: 36 }),
    txt(297, 665, "Eigenvector entries", 22),
    // D
    mathG(663, 52, [{ t: "λ = r", sub: "g" }], 27, "#111"),
    ...arrow(697, 62, 719, 93),
    txt(603, 158, "Fixed point", 23, { rot: Math.PI / 2 }),
    mathG(640, 152, [{ t: "κ" }], 30, "#111", { center: true, rot: Math.PI / 2 }),
    mathG(812, 242, [{ t: "E/I ratio ", sans: true, s: 22 }, ...AEAI], 25, "#111", { center: true }),
    // E
    mathG(672, 362, [{ t: "Δ", sub: "x", sup: "E" }], 30, RC),
    mathG(672, 525, [{ t: "Δ", sub: "x", sup: "I" }], 30, BC),
    mathG(595, 488, [{ t: "Variance ", sans: true, s: 23 }, { t: "Δ", sub: "x", up: true }], 30, "#111", { center: true, rot: Math.PI / 2 }),
    mathG(812, 668, [{ t: "E/I ratio ", sans: true, s: 22 }, ...AEAI], 25, "#111", { center: true }),
    // F
    txt(1097, 57, "Excitatory", 24),
    txt(1312, 57, "Inhibitory", 24),
    mathG(1008, 112, AEAI, 25, "#111"),
    txt(1003, 150, "0.38", 21, { align: "left" }),
    txt(1003, 182, "0.33", 21, { align: "left" }),
    { type: "rect", shape: { x: 1051, y: 147, width: 24, height: 6 }, style: { fill: "#8e2a3c" } },
    { type: "rect", shape: { x: 1079, y: 147, width: 24, height: 6 }, style: { fill: "#4d67a8" } },
    { type: "rect", shape: { x: 1051, y: 179, width: 24, height: 6 }, style: { fill: "#555" } },
    { type: "rect", shape: { x: 1079, y: 179, width: 24, height: 6 }, style: { fill: "#555" } },
    { type: "rect", shape: { x: 1025, y: 238, width: 380, height: 48 }, style: { fill: "none", stroke: "#222", lineWidth: 1.3 }, z: 10 },
    { type: "bezierCurve", shape: { x1: 1385, y1: 303, cpx1: 1412, cpy1: 340, cpx2: 1414, cpy2: 425, x2: 1389, y2: 458 }, style: { stroke: "#111", lineWidth: 2, fill: "none" } },
    { type: "polygon", shape: { points: [[1383, 468], [1382, 452], [1395, 459]] }, style: { fill: "#111" } },
    mathG(1022, 385, [{ t: "Δ", up: true }, { t: "x", sub: "i" }], 30, "#111", { center: true, rot: Math.PI / 2 }),
    mathG(1218, 653, [{ t: "Δ", up: true }, { t: "m", sub: "i" }], 30, "#111", { center: true })
  ];

  return {
    animation: false,
    backgroundColor: "#fff",
    grid, xAxis, yAxis, series,
    graphic: { elements }
  };
}

export default function App() {
  const ref = useRef<HTMLDivElement>(null);
  useEffect(() => {
    const chart = echarts.init(ref.current!, null, { renderer: "svg" });
    chart.setOption(buildOption() as any);
    return () => chart.dispose();
  }, []);
  return <div ref={ref} style={{ position: "absolute", left: 0, top: 0, width: 1438, height: 683, background: "#fff" }} />;
}
